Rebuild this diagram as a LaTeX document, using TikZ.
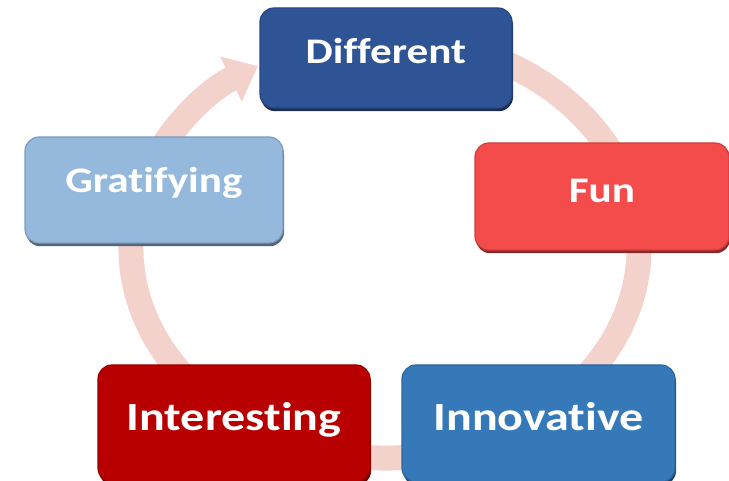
\documentclass[tikz,border=0pt]{standalone}
\usepackage{fontspec}
\setmainfont{Carlito}[FakeStretch=1.2, Ligatures=NoCommon]
\usetikzlibrary{arrows.meta,shadows}

\definecolor{ringpink}{HTML}{F2D2CA}
\definecolor{difblue}{HTML}{2F5496}
\definecolor{gratblue}{HTML}{95B8DD}
\definecolor{funred}{HTML}{F44B4B}
\definecolor{intred}{HTML}{B80000}
\definecolor{innoblue}{HTML}{3679B8}

\tikzset{
    cbox/.style={rectangle, rounded corners=7pt, fill=#1, draw=#1!85!black, line width=0.6pt,
        drop shadow={shadow xshift=0.5pt, shadow yshift=-1.6pt, fill=#1!55!black, opacity=1},
        text=white, inner sep=0pt, text height=12pt, text depth=6pt},
    small/.style={font=\bfseries\fontsize{18}{20}\selectfont},
    large/.style={font=\bfseries\fontsize{20}{22}\selectfont, text depth=4.6pt},
}

\begin{document}
\begin{tikzpicture}[x=0.5pt,y=0.5pt]
        \useasboundingbox (0,0) rectangle (729,481);

        % Ring
        \coordinate (ctr) at (385,233);
        \draw[ringpink, line width=12.5pt, -{Triangle[width=24pt,length=15pt]}]
            (ctr) ++(70:254 and 210) arc[start angle=70, end angle=-240, x radius=254, y radius=210];

        % Boxes
        \node[cbox=difblue, small, minimum width=126pt, minimum height=50pt] (dif) at (386,423) {Different};
        \node[cbox=funred, small, minimum width=127pt, minimum height=53.5pt] (fun) at (602,284.5) {Fun};
        \node[cbox=gratblue, small, minimum width=129pt, minimum height=53pt, text depth=9pt] (grat) at (154,291) {Gratifying};
        \node[cbox=intred, large, minimum width=136pt, minimum height=58.5pt] (int) at (234,57.5) {Interesting};
        \node[cbox=innoblue, large, minimum width=136.5pt, minimum height=58.5pt] (inno) at (538.5,57.5) {Innovative};
\end{tikzpicture}
\end{document}
